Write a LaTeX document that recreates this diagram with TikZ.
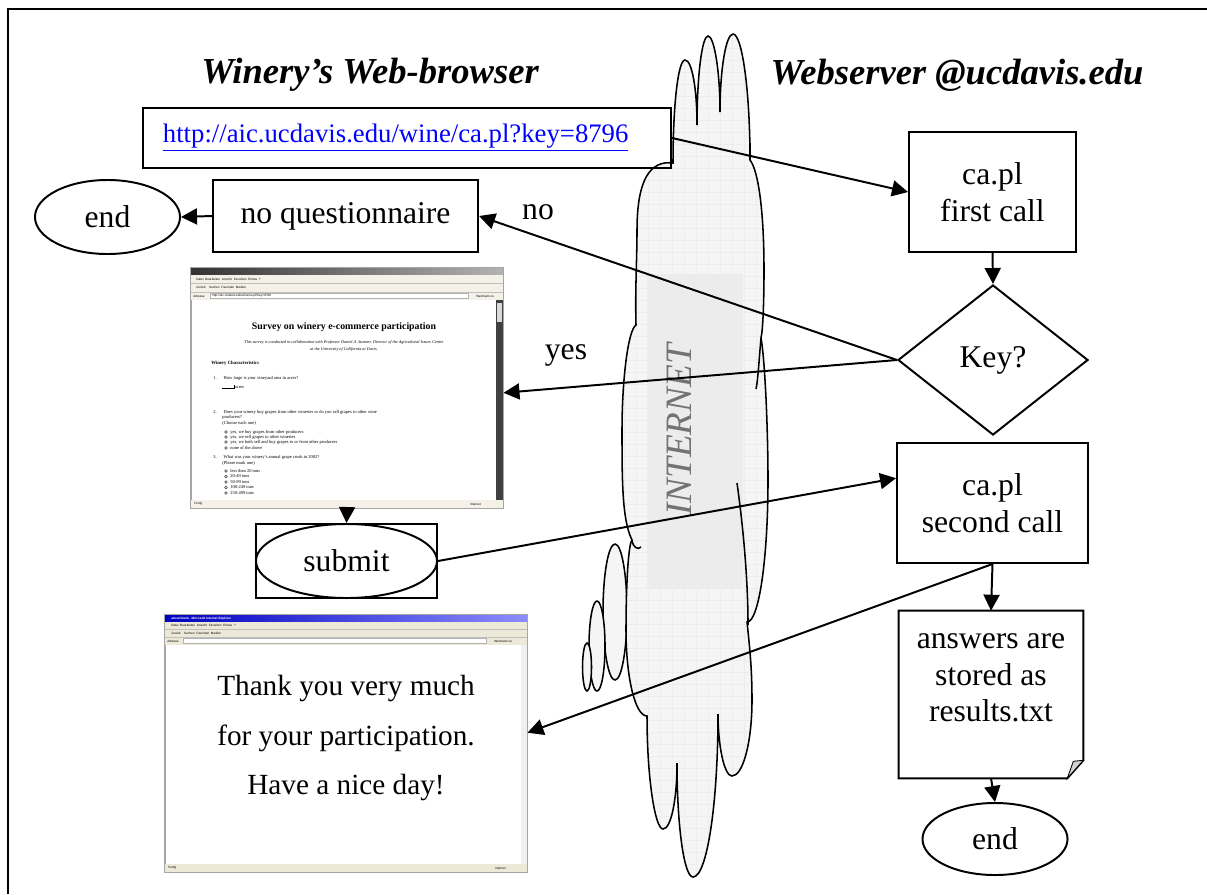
\documentclass[tikz,border=0pt]{standalone}
\usepackage{fontspec}
\setmainfont{Liberation Serif}
\setsansfont{Liberation Sans}
\usetikzlibrary{arrows.meta,shapes.geometric}

\definecolor{xpgray}{HTML}{ECE9D8}
\definecolor{linkblue}{HTML}{0000FF}

\newcommand{\cloudpath}{(673,163)
  .. controls (673,106) and (678,60) .. (685,60)
  .. controls (692,60) and (697,89) .. (697,125)
  .. controls (697,76) and (702,36) .. (708,36)
  .. controls (714,36) and (720,70) .. (720,112)
  .. controls (720,69) and (726,34) .. (733,34)
  .. controls (742,34) and (750,90) .. (750,160)
  .. controls (758,170) and (764,209) .. (764,270)
  .. controls (764,300) and (763,330) .. (761,338)
  .. controls (765,360) and (768,430) .. (768,480)
  .. controls (768,558) and (759,622) .. (747,622)
  .. controls (750,650) and (752,670) .. (752,700)
  .. controls (752,742) and (743,776) .. (732,776)
  .. controls (724,776) and (718,745) .. (718,714)
  .. controls (718,804) and (707,877) .. (693,877)
  .. controls (684,877) and (677,826) .. (677,763)
  .. controls (677,800) and (671,829) .. (663,829)
  .. controls (655,829) and (647,778) .. (647,716)
  .. controls (635,716) and (626,677) .. (626,630)
  .. controls (626,590) and (628,545) .. (632,540)
  .. controls (622,520) and (622,480) .. (622,430)
  .. controls (622,380) and (628,330) .. (636,325)
  .. controls (635,290) and (637,260) .. (637,230)
  .. controls (637,180) and (650,160) .. (673,163) -- cycle}

\begin{document}
\begin{tikzpicture}[x=0.025cm, y=-0.025cm,
    box/.style={draw, line width=1.4pt, inner sep=0pt, align=center, font=\fontsize{22.5}{26}\selectfont},
    endnode/.style={draw, ellipse, line width=1.4pt, inner sep=0pt, minimum width=3.625cm, minimum height=1.85cm, font=\fontsize{22.5}{26}\selectfont},
    arr/.style={-{Triangle[length=4mm, width=4mm]}, line width=1.4pt},
    heading/.style={font=\fontsize{26}{30}\selectfont\bfseries\itshape},
    lbl/.style={font=\fontsize{22.5}{26}\selectfont},
    win/.style={draw=gray!70, line width=0.6pt, inner sep=0pt, fill=white},
    ui/.style={font=\sffamily\fontsize{2.2}{2.6}\selectfont, inner sep=0pt, anchor=west},
    sv/.style={font=\fontsize{3.2}{3.8}\selectfont, inner sep=0pt, anchor=west},
    cloudline/.style={line width=1.1pt}]
    \useasboundingbox (0,0) rectangle (1207,894);

    % Frame
    \draw[line width=1.4pt] (8,894) -- (8,9) -- (1207,9);

    % Internet cloud
    \filldraw[cloudline, fill=gray!8] (615,612) ellipse [x radius=12, y radius=68];
    \filldraw[cloudline, fill=gray!8] (597,646) ellipse [x radius=8, y radius=45];
    \filldraw[cloudline, fill=gray!8] (587,667) ellipse [x radius=4.5, y radius=24];
    \begin{scope}
        \clip \cloudpath;
        \fill[gray!8] (600,0) rectangle (790,894);
        \draw[gray!14, line width=0.25pt, step=0.3cm] (600,0) grid (790,894);
        \fill[gray!15] (647,274) rectangle (743,589);
    \end{scope}
    \draw[cloudline] \cloudpath;
    \draw[cloudline] (750,143) -- (750,160);
    \draw[cloudline] (761,338) .. controls (759,360) and (758,380) .. (756,389);
    \draw[cloudline] (737,483) .. controls (745,540) and (748,590) .. (748,625);
    \draw[cloudline] (632,540) .. controls (633,548) and (638,550) .. (641,547);
    \node[rotate=90, text=black!55, font=\fontsize{26.5}{30}\selectfont\itshape] (inet) at (679,430) {INTERNET};

    % Headings
    \node[heading] (hbrowser) at (370,75) {Winery's Web-browser};
    \node[heading] (hserver) at (957,75) {Webserver @ucdavis.edu};

    % Browser side
    \node[box, text width=12.2cm, inner xsep=0.5cm, minimum height=1.5cm, align=left, font=\fontsize{19}{22}\selectfont] (url) at (407,138)
        {\textcolor{linkblue}{\underline{http://aic.ucdavis.edu/wine/ca.pl?key=8796}}};
    \node[box, minimum width=6.625cm, minimum height=1.8cm] (noq) at (345.5,216) {no questionnaire};
    \node[endnode] (endl) at (107.5,217) {end};
    \node[lbl] (nolbl) at (538,212) {no};
    \node[lbl] (yeslbl) at (566,355) {yes};

    % Survey screenshot
    \node[win, minimum width=7.8cm, minimum height=6cm] (survey) at (347,388) {};
    \fill[left color=black!80, right color=black!30] (191,268) rectangle (503,275);
    \fill[xpgray!60] (191,275) rectangle (503,300);
    \draw[gray!50, line width=0.2pt] (191,283) -- (503,283) (191,292) -- (503,292);
    \node[ui] (smenu) at (196,279) {Datei\ \ Bearbeiten\ \ Ansicht\ \ Favoriten\ \ Extras\ \ ?};
    \node[ui] (stool) at (196,287.5) {Zurück\ \ \ \ Suchen\ \ Favoriten\ \ Medien};
    \node[ui] (saddr) at (193,296) {Adresse};
    \filldraw[fill=white, draw=gray!60, line width=0.2pt] (210,293.5) rectangle (468,298.5);
    \node[ui] (surl) at (212,296) {http://aic.ucdavis.edu/wine/ca.pl?key=8796};
    \node[ui] (sgo) at (476,296) {Wechseln zu};
    \fill[black!75] (496,300) rectangle (503,500);
    \fill[gray!30] (497,303) rectangle (502,322);
    \fill[xpgray!60] (191,500) rectangle (503,508);
    \node[ui] (sstat) at (194,504) {Fertig};
    \node[ui] (snet) at (470,504) {Internet};
    \node[inner sep=0pt, font=\bfseries\fontsize{7}{8}\selectfont] (stitle) at (344,327) {Survey on winery e-commerce participation};
    \node[inner sep=0pt, align=center, font=\itshape\fontsize{3}{5}\selectfont] (sintro) at (344,345.5)
        {This survey is conducted in collaboration with Professor Daniel A. Sumner, Director of the Agricultural Issues Center\\at the University of California at Davis.};
    \node[sv, font=\bfseries\fontsize{3.4}{4}\selectfont] (shead) at (211,363) {Winery Characteristics};
    \foreach \yy/\txt [count=\i] in {
        378/{1.\hspace{5pt}How large is your vineyard area in acres?},
        412/{2.\hspace{5pt}Does your winery buy grapes from other wineries or do you sell grapes to other wine},
        457/{3.\hspace{5pt}What was your winery's annual grape crush in 2002?}}
        \node[sv] (sq\i) at (213,\yy) {\txt};
    \foreach \yy/\txt [count=\i] in {
        387/{\rule{8pt}{0.2pt}\rule{0.2pt}{2.5pt} acres},
        417/{producers?},
        423/{(Choose each one)},
        463/{(Please mark one)}}
        \node[sv] (sc\i) at (222,\yy) {\txt};
    \foreach \yy/\txt [count=\i] in {
        432/{yes, we buy grapes from other producers},
        437/{yes, we sell grapes to other wineries},
        442/{yes, we both sell and buy grapes to or from other producers},
        448/{none of the above},
        471/{less than 20 tons},
        476.5/{20-49 tons},
        482/{50-99 tons},
        487.5/{100-249 tons},
        493/{250-499 tons}} {
        \draw[line width=0.2pt] (226,\yy) circle (1.4);
        \node[sv] (so\i) at (230,\yy) {\txt};
    }
    \draw[gray!70, line width=0.6pt] (survey.north west) rectangle (survey.south east);

    % Submit
    \node[draw, line width=1.4pt, minimum width=4.525cm, minimum height=1.85cm] (submitbox) at (346.5,561) {};
    \node[endnode, minimum width=4.525cm] (submit) at (346.5,561) {submit};

    % Thank-you screenshot
    \node[win, minimum width=9.05cm, minimum height=6.425cm] (thanks) at (346,743.5) {};
    \fill[left color=blue!75!black, right color=blue!45] (165,615) rectangle (527,622);
    \node[ui, text=white, font=\sffamily\bfseries\fontsize{2.2}{2.6}\selectfont] (ttitle) at (171,618.5) {about:blank - Microsoft Internet Explorer};
    \fill[xpgray] (165,622) rectangle (527,645);
    \draw[gray!50, line width=0.2pt] (165,629) -- (527,629) (165,637) -- (527,637);
    \node[ui] (tmenu) at (171,625.5) {Datei\ \ Bearbeiten\ \ Ansicht\ \ Favoriten\ \ Extras\ \ ?};
    \node[ui] (ttool) at (171,633) {Zurück\ \ \ \ Suchen\ \ Favoriten\ \ Medien};
    \node[ui] (taddr) at (167,641) {Adresse};
    \filldraw[fill=white, draw=gray!60, line width=0.2pt] (183,638.5) rectangle (486,643.5);
    \node[ui] (tgo) at (494,641) {Wechseln zu};
    \fill[gray!12] (521,645) rectangle (527,864);
    \fill[xpgray] (165,864) rectangle (527,872);
    \node[ui] (tstat) at (168,868) {Fertig};
    \node[ui] (tnet) at (495,868) {Internet};
    \node[align=center, font=\fontsize{20.8}{35.5}\selectfont] (ttext) at (346,738)
        {Thank you very much\\for your participation.\\Have a nice day!};
    \draw[gray!70, line width=0.6pt] (thanks.north west) rectangle (thanks.south east);

    % Server side
    \node[box, minimum width=4.175cm, minimum height=3cm] (call1) at (992.5,192) {ca.pl\\first call};
    \node[box, diamond, minimum width=4.75cm, minimum height=3.75cm] (key) at (993,360) {Key?};
    \node[box, minimum width=4.775cm, minimum height=3cm] (call2) at (992.5,503) {ca.pl\\second call};
    \node[inner sep=0pt, minimum width=4.6cm, minimum height=4.175cm] (results) at (991,694.5) {};
    \draw[line width=1.4pt] (results.south west) -- (results.north west) -- (results.north east)
        -- ([yshift=0.45cm]results.south east) -- ([xshift=-0.4cm]results.south east) -- cycle;
    \filldraw[fill=gray!35, line width=0.6pt] ([xshift=-0.4cm]results.south east)
        -- ([xshift=-0.25cm, yshift=0.425cm]results.south east) -- ([yshift=0.45cm]results.south east) -- cycle;
    \node[align=center, font=\fontsize{22.5}{26}\selectfont] (restext) at (991,678) {answers are\\stored as\\results.txt};
    \node[endnode, minimum height=1.8cm] (endr) at (995,839) {end};

    % Arrows
    \draw[arr] (url.east) -- (call1.west);
    \draw[arr] (call1.south) -- (key.north);
    \draw[arr] (key.west) -- (noq.east);
    \draw[arr] (key.west) -- ([yshift=-0.12cm]survey.east);
    \draw[arr] (noq.west) -- (endl.east);
    \draw[arr] (survey.south) -- (submitbox.north);
    \draw[arr] (submit.east) -- ([yshift=0.62cm]call2.west);
    \draw[arr] (call2.south) -- (results.north);
    \draw[arr] (call2.south) -- ([yshift=0.27cm]thanks.east);
    \draw[arr] (results.south) -- (endr.north);
\end{tikzpicture}
\end{document}
